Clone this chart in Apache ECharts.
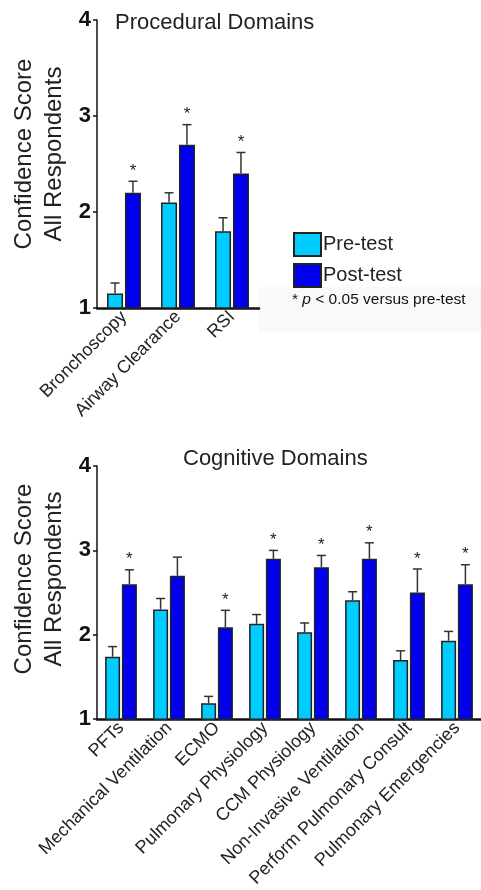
<!DOCTYPE html>
<html>
<head>
<meta charset="utf-8">
<script src="https://cdn.jsdelivr.net/npm/echarts@6/dist/echarts.min.js"></script>
<style>
html,body{margin:0;padding:0;background:#fff;}
#chart{width:481px;height:890px;}
</style>
</head>
<body>
<div id="chart"></div>
<script>
// ---- Data ----
const procCats = ['Bronchoscopy', 'Airway Clearance', 'RSI'];
const procPre = [1.15, 2.10, 1.80];
const procPreErrTop = [1.26, 2.20, 1.94];
const procPost = [2.20, 2.70, 2.40];
const procPostErrTop = [2.32, 2.91, 2.62];
const procSig = [1, 1, 1];

const cogCats = ['PFTs', 'Mechanical Ventilation', 'ECMO', 'Pulmonary Physiology', 'CCM Physiology', 'Non-Invasive Ventilation', 'Perform Pulmonary Consult', 'Pulmonary Emergencies'];
const cogPre = [1.74, 2.30, 1.19, 2.13, 2.03, 2.41, 1.70, 1.93];
const cogPreErrTop = [1.86, 2.43, 1.27, 2.24, 2.14, 2.51, 1.81, 2.04];
const cogPost = [2.60, 2.70, 2.09, 2.90, 2.80, 2.90, 2.50, 2.60];
const cogPostErrTop = [2.77, 2.92, 2.29, 3.00, 2.94, 3.09, 2.78, 2.83];
const cogSig = [1, 0, 1, 1, 1, 1, 1, 1];

const yTicks = [1, 2, 3, 4];
const seriesNames = ['Pre-test', 'Post-test'];
const yAxisTitle = 'Confidence Score\nAll Respondents';
const titles = ['Procedural Domains', 'Cognitive Domains'];
const footnoteParts = ['* ', 'p', ' < 0.05 versus pre-test'];

// ---- Styling ----
const FONT = '"Liberation Sans", Arial, Helvetica, sans-serif';
const PRE_COLOR = '#00ccff';
const POST_COLOR = '#0000ee';
const TXT = '#222';

const chart = echarts.init(document.getElementById('chart'), null, {renderer: 'canvas'});

function errSeries(name, gi, values, tops, sig, offset) {
  return {
    name: name,
    type: 'custom',
    xAxisIndex: gi, yAxisIndex: gi,
    z: 5,
    silent: true,
    encode: {x: 0, y: 1},
    data: values.map((v, i) => [i, v, tops[i], sig ? sig[i] : 0]),
    renderItem: function (params, api) {
      const i = api.value(0), v = api.value(1), e = api.value(2), s = api.value(3);
      const p0 = api.coord([i, v]);
      const p1 = api.coord([i, e]);
      const x = p0[0] + offset;
      const children = [
        {type: 'line', shape: {x1: x, y1: p0[1], x2: x, y2: p1[1]}, style: {stroke: '#333', lineWidth: 1.5}},
        {type: 'line', shape: {x1: x - 4.5, y1: p1[1], x2: x + 4.5, y2: p1[1]}, style: {stroke: '#333', lineWidth: 1.5}}
      ];
      if (s) {
        children.push({type: 'text', x: x, y: p1[1] - 10,
          style: {text: '*', fontSize: 17, fill: TXT, fontFamily: FONT, textAlign: 'center', textVerticalAlign: 'middle'}});
      }
      return {type: 'group', children: children};
    }
  };
}

function barSeries(name, gi, values, color, bw) {
  return {
    name: name, type: 'bar', xAxisIndex: gi, yAxisIndex: gi,
    data: values, barWidth: bw, barGap: '12%',
    itemStyle: {color: color, borderColor: '#222', borderWidth: 1.5},
    emphasis: {disabled: true}
  };
}

function xAxisDef(gi, cats) {
  return {
    gridIndex: gi, type: 'category', data: cats,
    axisLine: {show: true, lineStyle: {color: '#111', width: 2.5}},
    axisTick: {show: false},
    axisLabel: {rotate: 45, interval: 0, fontSize: 18, margin: 6, color: TXT, fontFamily: FONT}
  };
}
function yAxisDef(gi) {
  return {
    gridIndex: gi, type: 'value', min: yTicks[0], max: yTicks[yTicks.length - 1], interval: 1,
    axisLine: {show: true, lineStyle: {color: '#111', width: 1.5}},
    axisTick: {show: true, length: 4, lineStyle: {color: '#111', width: 1.5}},
    splitLine: {show: false},
    axisLabel: {fontSize: 22, fontWeight: 'bold', color: '#111', margin: 6, fontFamily: FONT}
  };
}

const option = {
  animation: false,
  backgroundColor: '#fff',
  textStyle: {fontFamily: FONT},
  grid: [
    {left: 97, top: 20, width: 162, height: 288},
    {left: 97, top: 466, width: 384, height: 257}
  ],
  xAxis: [xAxisDef(0, procCats), xAxisDef(1, cogCats)],
  yAxis: [yAxisDef(0), yAxisDef(1)],
  legend: {
    data: seriesNames,
    orient: 'vertical', left: 293, top: 232,
    itemWidth: 27, itemHeight: 23, itemGap: 6, padding: 0,
    icon: 'rect',
    textStyle: {fontSize: 20, color: TXT, fontFamily: FONT, padding: [0, 0, 0, -3]},
    selectedMode: false
  },
  graphic: [
    {type: 'rect', z: -10, shape: {x: 258, y: 287, width: 223, height: 45}, style: {fill: '#f9f9f9'}},
    {type: 'text', x: 115, y: 23, style: {text: titles[0], fontSize: 22, fill: TXT, fontFamily: FONT, textVerticalAlign: 'middle'}},
    {type: 'text', x: 183, y: 459, style: {text: titles[1], fontSize: 22, fill: TXT, fontFamily: FONT, textVerticalAlign: 'middle'}},
    {type: 'text', x: 39, y: 154, rotation: Math.PI / 2,
      style: {text: yAxisTitle, fontSize: 24, lineHeight: 30, fill: TXT, fontFamily: FONT, textAlign: 'center', textVerticalAlign: 'middle'}},
    {type: 'text', x: 39, y: 579, rotation: Math.PI / 2,
      style: {text: yAxisTitle, fontSize: 24, lineHeight: 30, fill: TXT, fontFamily: FONT, textAlign: 'center', textVerticalAlign: 'middle'}},
    {type: 'text', x: 292, y: 300,
      style: {
        text: '{a|' + footnoteParts[0] + '}{b|' + footnoteParts[1] + '}{a|' + footnoteParts[2] + '}',
        textVerticalAlign: 'middle',
        rich: {
          a: {fontSize: 15.5, fill: '#111', fontFamily: FONT},
          b: {fontSize: 15.5, fill: '#111', fontFamily: FONT, fontStyle: 'italic'}
        }
      }}
  ],
  series: [
    barSeries(seriesNames[0], 0, procPre, PRE_COLOR, 16),
    barSeries(seriesNames[1], 0, procPost, POST_COLOR, 16),
    barSeries(seriesNames[0], 1, cogPre, PRE_COLOR, 15),
    barSeries(seriesNames[1], 1, cogPost, POST_COLOR, 15),
    errSeries('errPreProc', 0, procPre, procPreErrTop, null, -8.96),
    errSeries('errPostProc', 0, procPost, procPostErrTop, procSig, 8.96),
    errSeries('errPreCog', 1, cogPre, cogPreErrTop, null, -8.4),
    errSeries('errPostCog', 1, cogPost, cogPostErrTop, cogSig, 8.4)
  ]
};
chart.setOption(option);
</script>
</body>
</html>
